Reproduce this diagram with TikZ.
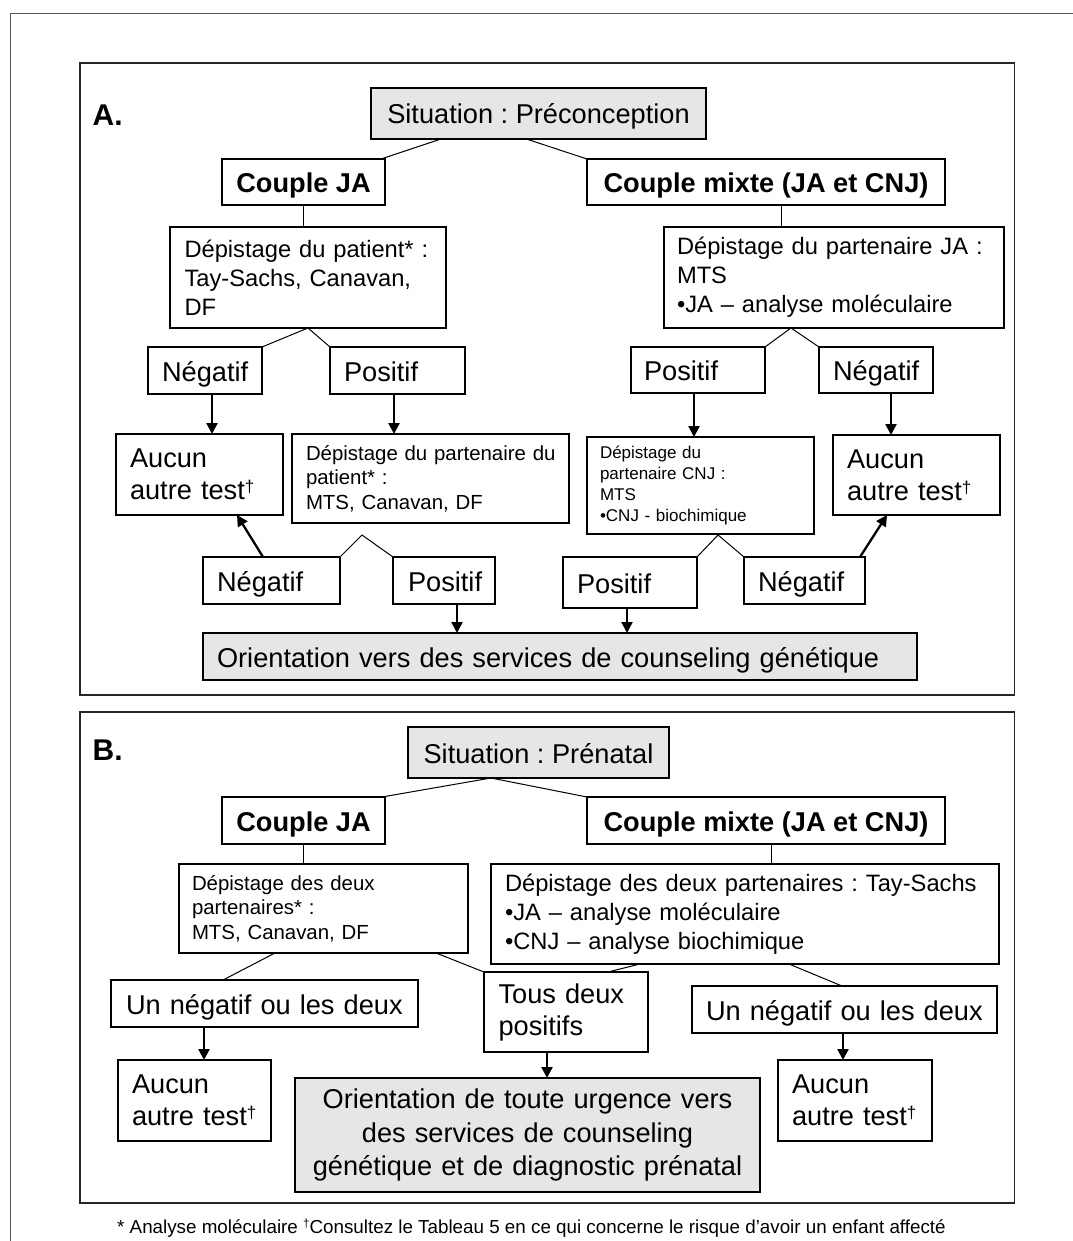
\documentclass[tikz,border=0pt]{standalone}
\usepackage{fontspec}
\setmainfont{Liberation Sans}
\usetikzlibrary{arrows.meta,calc}
\definecolor{boxgray}{HTML}{E6E6E6}
\definecolor{framegray}{HTML}{555555}
\definecolor{panelcol}{HTML}{262626}
\hyphenpenalty=10000
\exhyphenpenalty=10000
\frenchspacing
\newcommand{\fLg}{\fontsize{27.2}{32}\selectfont}
\newcommand{\fMd}{\fontsize{23.7}{29}\selectfont}
\newcommand{\fSm}{\fontsize{20.4}{24.6}\selectfont}
\newcommand{\fXs}{\fontsize{17}{20.8}\selectfont}
\newcommand{\fFn}{\fontsize{18.8}{22}\selectfont}
\newcommand{\fLbl}{\fontsize{30}{30}\selectfont\bfseries}
\newcommand{\bigdag}{\raisebox{7pt}{\fontsize{17}{17}\selectfont †}}
\newcommand{\smalldag}{\raisebox{5.5pt}{\fontsize{11.5}{11.5}\selectfont †}}
\newcommand{\padtxt}[2]{\leftskip=#1pt\relax #2\par}
\begin{document}
\begin{tikzpicture}[x=1pt,y=-1pt,
  box/.style={draw=black, line width=1.3pt, anchor=north west, inner ysep=0pt, outer sep=0pt},
  gbox/.style={box, fill=boxgray},
  one/.style={text height=21pt, text depth=0pt},
  lft/.style={align=left, inner xsep=0pt},
  ctr/.style={align=center},
  conn/.style={line width=1pt, black},
  arr/.style={line width=2.3pt, black, -{Triangle[width=11pt,length=11pt]}},
  panel/.style={draw=panelcol, line width=1.7pt},
  outerframe/.style={draw=framegray, line width=1.3pt},
  lbl/.style={anchor=base west, inner sep=0pt, font=\fLbl}
]
\useasboundingbox (0,0) rectangle (1072,1241);

% frames
\draw[outerframe] (10.5,1260) -- (10.5,13.3) -- (1090,13.3);
\draw[panel] (80,63.3) rectangle (1014.5,695);
\draw[panel] (80,711.7) rectangle (1014.5,1203);

%%%%%%%%%%%%%%%% Panel A
\node[lbl] (labA) at (92.5,126) {A.};

\node[gbox, one, ctr, font=\fLg, minimum width=335pt, minimum height=51pt] (sitA) at (371,88) {Situation : Préconception};
\node[box, one, ctr, font=\fLg\bfseries, minimum width=163pt, minimum height=46pt] (cjaA) at (222,159) {Couple JA};
\node[box, one, ctr, font=\fLg\bfseries, minimum width=358pt, minimum height=46pt] (cmxA) at (587,159) {Couple mixte (JA et CNJ)};

\node[box, lft, font=\fMd, minimum width=276pt, minimum height=101pt, text width=276pt] (dpA) at (170,227)
  {\padtxt{14.5}{Dépistage du patient* :\\Tay-Sachs, Canavan,\\DF}};
\node[box, lft, font=\fMd, minimum width=340pt, minimum height=101pt, text width=340pt] (djA) at (664,227)
  {\padtxt{13}{Dépistage du partenaire JA :\\MTS\\•JA – analyse moléculaire}};

\node[box, one, lft, font=\fLg, minimum width=114pt, minimum height=47pt, text width=114pt] (negA1) at (148,347) {\padtxt{14}{Négatif}};
\node[box, one, lft, font=\fLg, minimum width=135pt, minimum height=47pt, text width=135pt] (posA1) at (330,347) {\padtxt{14}{Positif}};
\node[box, one, lft, font=\fLg, minimum width=134pt, minimum height=46pt, text width=134pt] (posA2) at (631,347) {\padtxt{13}{Positif}};
\node[box, one, lft, font=\fLg, minimum width=114pt, minimum height=46pt, text width=114pt] (negA2) at (819,347) {\padtxt{14}{Négatif}};

\node[box, lft, font=\fLg, minimum width=167pt, minimum height=81pt, text width=167pt] (aucA1) at (116,434) {\padtxt{14}{Aucun\\autre~test\bigdag}};
\node[box, lft, font=\fSm, minimum width=277pt, minimum height=89pt, text width=277pt] (dppA) at (292,434)
  {\padtxt{14}{Dépistage du partenaire du\\patient* :\\MTS, Canavan, DF}};
\node[box, lft, font=\fXs, minimum width=227pt, minimum height=97pt, text width=227pt] (dcnA) at (587,437)
  {\padtxt{13}{Dépistage du\\partenaire CNJ :\\MTS\\•CNJ - biochimique}};
\node[box, lft, font=\fLg, minimum width=167pt, minimum height=80pt, text width=167pt] (aucA2) at (833,435) {\padtxt{14}{Aucun\\autre~test\bigdag}};

\node[box, one, lft, font=\fLg, minimum width=137pt, minimum height=47pt, text width=137pt] (negA3) at (203,557) {\padtxt{14}{Négatif}};
\node[box, one, lft, font=\fLg, minimum width=102pt, minimum height=47pt, text width=102pt] (posA3) at (393,557) {\padtxt{15}{Positif}};
\node[box, one, lft, font=\fLg, minimum width=134pt, minimum height=51pt, text width=134pt] (posA4) at (563,557) {\padtxt{14}{Positif}};
\node[box, one, lft, font=\fLg, minimum width=121pt, minimum height=47pt, text width=121pt] (negA4) at (744,557) {\padtxt{14}{Négatif}};

\node[gbox, one, lft, font=\fLg, minimum width=714pt, minimum height=47pt, text width=714pt] (oriA) at (203,633)
  {\padtxt{14}{Orientation vers des services de counseling génétique}};

\coordinate (apexA1) at (362,535);
\coordinate (apexA2) at (718,535);

% connectors A
\draw[conn] ($(sitA.south west)+(70,0)$) -- ($(cjaA.north east)+(-4,0)$);
\draw[conn] ($(sitA.south west)+(155.4,0)$) -- (cmxA.north west);
\draw[conn] (cjaA.south) -- (cjaA.south |- dpA.north);
\draw[conn] ($(cmxA.south west)+(194,0)$) coordinate (cmxAo) -- (cmxAo |- djA.north);
\draw[conn] (negA1.north east) -- (dpA.south) -- (posA1.north west);
\draw[conn] (posA2.north east) -- ($(djA.south west)+(127,0)$) -- (negA2.north west);
\draw[conn] (negA3.north east) -- (apexA1) -- (posA3.north west);
\draw[conn] (posA4.north east) -- (apexA2) -- (negA4.north west);

\draw[arr] ($(negA1.south west)+(64,0)$) coordinate (a1) -- (a1 |- aucA1.north);
\draw[arr] ($(posA1.south west)+(64,0)$) coordinate (a2) -- (a2 |- dppA.north);
\draw[arr] ($(posA2.south west)+(63,0)$) coordinate (a3) -- (a3 |- dcnA.north);
\draw[arr] ($(negA2.south west)+(72,0)$) coordinate (a4) -- (a4 |- aucA2.north);
\draw[arr] ($(negA3.north west)+(60,0)$) -- ($(aucA1.south west)+(121,0)$);
\draw[arr] ($(negA4.north west)+(116,0)$) -- ($(aucA2.south west)+(54,0)$);
\draw[arr] ($(posA3.south west)+(64,0)$) coordinate (a5) -- (a5 |- oriA.north);
\draw[arr] ($(posA4.south west)+(64,0)$) coordinate (a6) -- (a6 |- oriA.north);

%%%%%%%%%%%%%%%% Panel B
\node[lbl] (labB) at (92.5,760) {B.};

\node[gbox, one, ctr, font=\fLg, minimum width=261pt, minimum height=51pt] (sitB) at (408,727) {Situation : Prénatal};
\node[box, one, ctr, font=\fLg\bfseries, minimum width=163pt, minimum height=47pt] (cjaB) at (222,797) {Couple JA};
\node[box, one, ctr, font=\fLg\bfseries, minimum width=358pt, minimum height=47pt] (cmxB) at (587,797) {Couple mixte (JA et CNJ)};

\node[box, lft, font=\fSm, minimum width=289pt, minimum height=89pt, text width=289pt] (ddB) at (179,864)
  {\padtxt{13}{Dépistage des deux\\partenaires* :\\MTS, Canavan, DF}};
\node[box, lft, font=\fMd, minimum width=508pt, minimum height=100pt, text width=508pt] (tsB) at (491,864)
  {\padtxt{14}{Dépistage des deux partenaires : Tay-Sachs\\•JA – analyse moléculaire\\•CNJ – analyse biochimique}};

\node[box, one, lft, font=\fLg, minimum width=307pt, minimum height=47pt, text width=307pt] (unB1) at (111,980) {\padtxt{15}{Un négatif ou les deux}};
\node[box, lft, font=\fLg, minimum width=164pt, minimum height=80pt, text width=164pt] (tdB) at (484,972) {\padtxt{14.5}{Tous deux\\positifs}};
\node[box, one, lft, font=\fLg, minimum width=305pt, minimum height=47pt, text width=305pt] (unB2) at (692,986) {\padtxt{14}{Un négatif ou les deux}};

\node[box, lft, font=\fLg, minimum width=153pt, minimum height=81pt, text width=153pt] (aucB1) at (118,1060) {\padtxt{14}{Aucun\\autre~test\bigdag}};
\node[gbox, ctr, font=\fontsize{27.2}{33.5}\selectfont, minimum width=465pt, minimum height=114pt, text width=445pt] (oriB) at (295,1078)
  {Orientation de toute urgence vers\\des services de counseling\\génétique et de diagnostic prénatal};
\node[box, lft, font=\fLg, minimum width=154pt, minimum height=81pt, text width=154pt] (aucB2) at (778,1060) {\padtxt{14}{Aucun\\autre~test\bigdag}};

% connectors B
\draw[conn] ($(cjaB.north east)+(-3,0)$) -- ($(sitB.south west)+(83,0)$) -- (cmxB.north west);
\draw[conn] (cjaB.south) -- (cjaB.south |- ddB.north);
\draw[conn] ($(cmxB.south west)+(184,0)$) coordinate (cmxBo) -- (cmxBo |- tsB.north);
\draw[conn] ($(ddB.south west)+(96,0)$) -- ($(unB1.north west)+(112,0)$);
\draw[conn] ($(ddB.south west)+(257,0)$) -- (tdB.north west);
\draw[conn] ($(tsB.south west)+(149,0)$) -- ($(tdB.north west)+(124,0)$);
\draw[conn] ($(tsB.south west)+(298,0)$) -- ($(unB2.north west)+(150,0)$);

\draw[arr] ($(unB1.south west)+(93,0)$) coordinate (b1) -- (b1 |- aucB1.north);
\draw[arr] ($(tdB.south west)+(63,0)$) coordinate (b2) -- (b2 |- oriB.north);
\draw[arr] ($(unB2.south west)+(151,0)$) coordinate (b3) -- (b3 |- aucB2.north);

% footnote
\node[anchor=base west, inner sep=0pt, font=\fFn] (fnote) at (117,1233)
  {* Analyse moléculaire \smalldag Consultez le Tableau 5 en ce qui concerne le risque d’avoir un enfant affecté};
\end{tikzpicture}
\end{document}
